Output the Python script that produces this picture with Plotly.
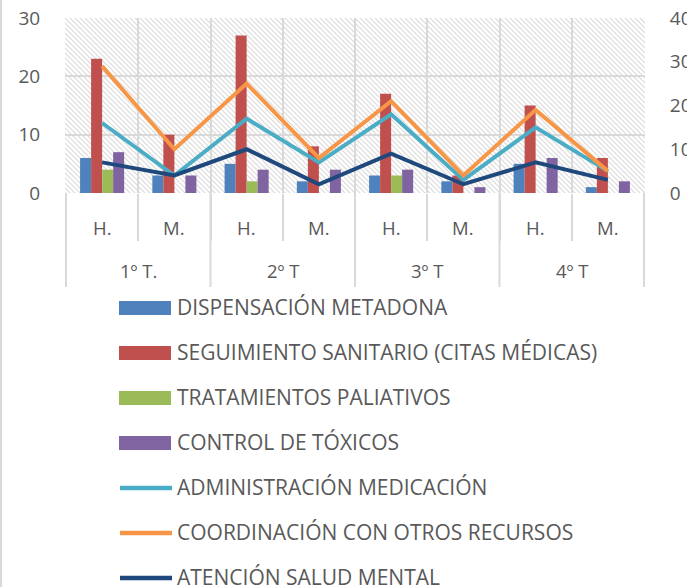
import base64
import plotly.graph_objects as go

quarters = ["1º T.", "1º T.", "2º T", "2º T", "3º T", "3º T", "4º T", "4º T"]
sexes = ["H.", "M.", "H.", "M.", "H.", "M.", "H.", "M."]

dispensacion = [6, 3, 5, 2, 3, 2, 5, 1]
seguimiento = [23, 10, 27, 8, 17, 3, 15, 6]
paliativos = [4, 0, 2, 0, 3, 0, 0, 0]
toxicos = [7, 3, 4, 4, 4, 1, 6, 2]

administracion = [16, 4, 17, 7, 18, 3, 15, 5]
coordinacion = [29, 10, 25, 8, 21, 4, 19, 5]
salud_mental = [7, 4, 10, 2, 9, 2, 7, 3]

left_ticks = [0, 10, 20, 30]
right_ticks = [0, 10, 20, 30, 40]

bar_series = [
    ("DISPENSACIÓN METADONA", dispensacion, "#4F81BD"),
    ("SEGUIMIENTO SANITARIO (CITAS MÉDICAS)", seguimiento, "#C0504D"),
    ("TRATAMIENTOS PALIATIVOS", paliativos, "#9BBB59"),
    ("CONTROL DE TÓXICOS", toxicos, "#8064A2"),
]
line_series = [
    ("ADMINISTRACIÓN MEDICACIÓN", administracion, "#4BACC6"),
    ("COORDINACIÓN CON OTROS RECURSOS", coordinacion, "#F79646"),
    ("ATENCIÓN SALUD MENTAL", salud_mental, "#1F497D"),
]

FONT = "Open Sans"
TXT = "#595959"
GRID = "#d9d9d9"

W, H = 687, 587
ML, MR, MT, MB = 65, 42, 18, 394
PW, PH = W - ML - MR, H - MT - MB


def px_x(px):
    return (px - ML) / PW


def px_y(py):
    return (H - MB - py) / PH


# unique category keys (quarter + sex); labels are drawn as two text rows below
keys = [q + " " + s for q, s in zip(quarters, sexes)]

fig = go.Figure()
for name, vals, col in bar_series:
    fig.add_trace(go.Bar(x=keys, y=vals, name=name, marker_color=col,
                         marker_line_width=0, yaxis="y"))
for name, vals, col in line_series:
    fig.add_trace(go.Scatter(x=keys, y=vals, name=name, mode="lines",
                             line=dict(color=col, width=4), yaxis="y2"))

annotations = []
shapes = []

# category labels (two levels) and dividers
for i, s in enumerate(sexes):
    annotations.append(dict(x=i, y=px_y(227), xref="x", yref="paper", text=s,
                            showarrow=False, yanchor="middle",
                            font=dict(family=FONT, size=18.5, color=TXT)))
groups = []
for i, q in enumerate(quarters):
    if not groups or groups[-1][0] != q:
        groups.append([q, i, i])
    else:
        groups[-1][2] = i
for q, a, b in groups:
    annotations.append(dict(x=(a + b) / 2, y=px_y(270), xref="x", yref="paper", text=q,
                            showarrow=False, yanchor="middle",
                            font=dict(family=FONT, size=18.5, color=TXT)))
    shapes.append(dict(type="line", xref="x", yref="paper", x0=a - 0.5, x1=a - 0.5,
                       y0=0, y1=px_y(287), line=dict(color=GRID, width=2)))
shapes.append(dict(type="line", xref="x", yref="paper", x0=len(keys) - 0.5,
                   x1=len(keys) - 0.5, y0=0, y1=px_y(287), line=dict(color=GRID, width=2)))
# outer chart border on the left
shapes.append(dict(type="line", xref="paper", yref="paper", x0=px_x(1), x1=px_x(1),
                   y0=px_y(H + 5), y1=px_y(-5), line=dict(color=GRID, width=2)))

# legend (drawn as shapes + text so it can run off the bottom edge like the original)
legend_items = [(n, c, "bar") for n, _, c in bar_series] + \
               [(n, c, "line") for n, _, c in line_series]
for k, (name, col, kind) in enumerate(legend_items):
    cy = 307 + 45 * k
    if kind == "bar":
        shapes.append(dict(type="rect", xref="paper", yref="paper",
                           x0=px_x(119), x1=px_x(171), y0=px_y(cy + 8), y1=px_y(cy - 6),
                           fillcolor=col, line=dict(width=0)))
    else:
        shapes.append(dict(type="line", xref="paper", yref="paper",
                           x0=px_x(120), x1=px_x(172), y0=px_y(cy + 1), y1=px_y(cy + 1),
                           line=dict(color=col, width=4.5)))
    annotations.append(dict(x=px_x(175), y=px_y(cy), xref="paper", yref="paper",
                            text=name, showarrow=False, xanchor="left", yanchor="middle",
                            font=dict(family=FONT, size=21, color=TXT)))

# hatched plot-area background
svg = ('<svg xmlns="http://www.w3.org/2000/svg" width="580" height="175">'
       '<defs><pattern id="p" patternUnits="userSpaceOnUse" width="5" height="5">'
       '<path d="M-1,-1 L6,6 M-1,4 L1,6 M4,-1 L6,1" stroke="#dadada" stroke-width="1.2"/>'
       '</pattern></defs><rect width="580" height="175" fill="white"/>'
       '<rect width="580" height="175" fill="url(#p)"/></svg>')
src = "data:image/svg+xml;base64," + base64.b64encode(svg.encode()).decode()

fig.update_layout(
    width=W, height=H,
    margin=dict(l=ML, r=MR, t=MT, b=MB),
    paper_bgcolor="white", plot_bgcolor="rgba(0,0,0,0)",
    font=dict(family=FONT, size=18, color=TXT),
    barmode="group", bargap=0.39, bargroupgap=0,
    showlegend=False,
    images=[dict(source=src, xref="paper", yref="paper", x=0, y=1, sizex=1, sizey=1,
                 sizing="stretch", layer="below", xanchor="left", yanchor="top")],
    xaxis=dict(type="category", tickson="boundaries", showgrid=True,
               gridcolor=GRID, gridwidth=2, ticks="outside", ticklen=47,
               tickcolor=GRID, tickwidth=2, showticklabels=False,
               showline=False, zeroline=False, automargin=False),
    yaxis=dict(range=[0, 30], tickvals=left_ticks, showgrid=True, gridcolor=GRID,
               gridwidth=2, zeroline=False, showline=False, automargin=False,
               ticks="outside", ticklen=20, tickcolor="rgba(0,0,0,0)",
               tickfont=dict(size=19, color=TXT)),
    yaxis2=dict(range=[0, 40], tickvals=right_ticks, overlaying="y", side="right",
                showgrid=False, zeroline=False, showline=False, automargin=False,
                ticks="outside", ticklen=20, tickcolor="rgba(0,0,0,0)",
                tickfont=dict(size=19, color=TXT)),
    annotations=annotations,
    shapes=shapes,
)
fig.write_html("out.html", config={"displayModeBar": False},
               post_script="document.body.style.margin='0';")
